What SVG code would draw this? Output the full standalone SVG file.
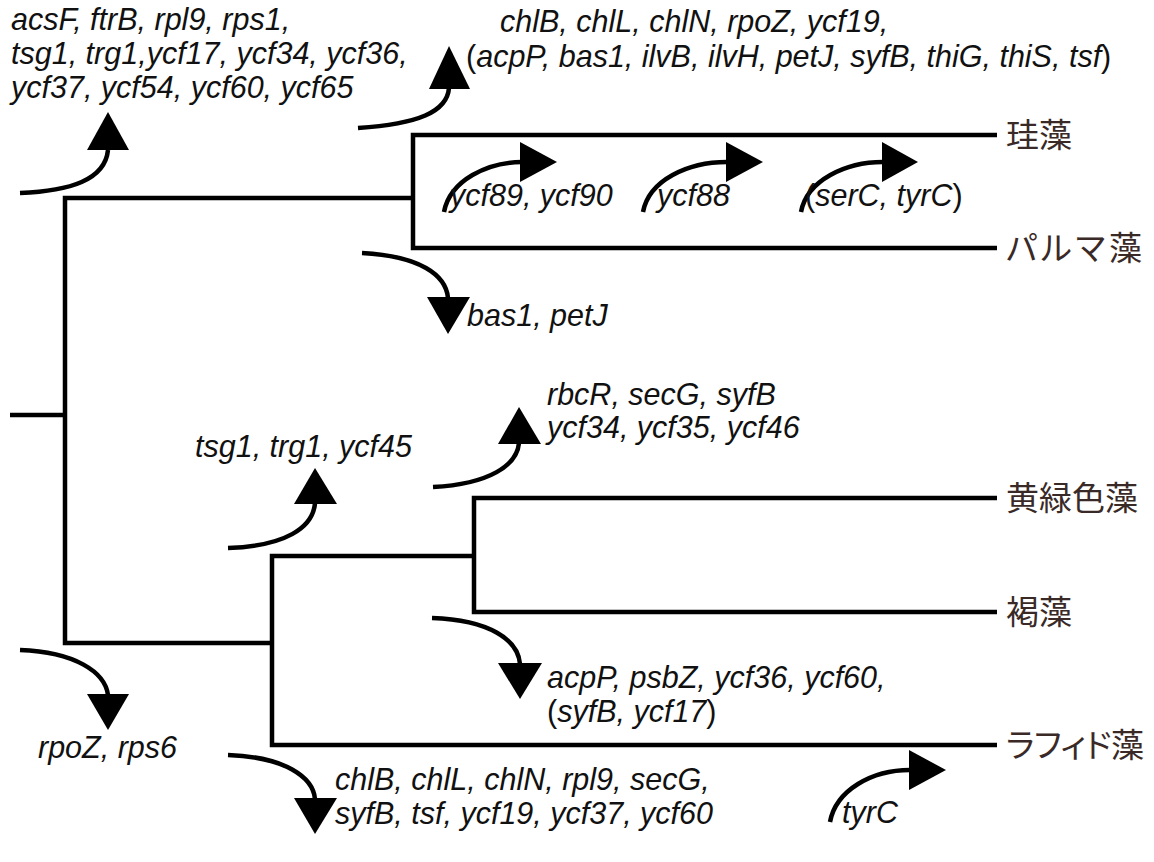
<svg xmlns="http://www.w3.org/2000/svg" width="1154" height="862" viewBox="0 0 1154 862">
  <style>
    .tree { fill: none; stroke: #000; stroke-width: 4.5; stroke-linejoin: miter; stroke-linecap: butt; }
    .curve { fill: none; stroke: #000; stroke-width: 4.5; stroke-linecap: butt; }
    .head { fill: #000; stroke: none; }
    .gene { font-family: "Liberation Sans", Arial, sans-serif; font-style: italic; font-size: 30.5px; fill: #111; }
    .up { font-style: normal; }
    .taxon { font-family: "Noto Sans CJK JP", "Noto Sans CJK SC", sans-serif; font-size: 33px; fill: #3a2a27; font-feature-settings: "palt"; }
  </style>
  <rect width="1154" height="862" fill="#fff"/>

  <!-- tree branches -->
  <g id="connectors">
    <path class="tree" d="M10,415 H65"/>
    <path class="tree" d="M413,198 H65 V643 H272"/>
    <path class="tree" d="M997,135 H413 V248 H997"/>
    <path class="tree" d="M474,556 H272 V745 H997"/>
    <path class="tree" d="M997,498 H474 V612 H997"/>
  </g>

  <!-- taxa -->
  <g id="taxon-diatom"><text class="taxon" x="1006" y="147">珪藻</text></g>
  <g id="taxon-bolido"><text class="taxon" x="1006" y="260" textLength="136" lengthAdjust="spacing">パルマ藻</text></g>
  <g id="taxon-xantho"><text class="taxon" x="1006" y="510">黄緑色藻</text></g>
  <g id="taxon-brown"><text class="taxon" x="1006" y="624">褐藻</text></g>
  <g id="taxon-raphido"><text class="taxon" x="1006" y="757" textLength="138" lengthAdjust="spacing">ラフィド藻</text></g>

  <!-- gene gains / losses -->
  <g id="event-root-gain">
    <path class="curve" d="M20,193 C70,191 105,180 108,150"/>
    <polygon class="head" points="87,150 129,150 108,112"/>
    <text class="gene" x="11" y="30">acsF, ftrB, rpl9, rps1,</text>
    <text class="gene" x="11" y="64">tsg1, trg1,ycf17, ycf34, ycf36,</text>
    <text class="gene" x="11" y="98">ycf37, ycf54, ycf60, ycf65</text>
  </g>

  <g id="event-diatom-bolido-gain">
    <path class="curve" d="M358,128 C418,124 447,112 449,88"/>
    <polygon class="head" points="429,89 470,89 449,46"/>
    <text class="gene" x="500" y="32">chlB, chlL, chlN, rpoZ, ycf19,</text>
    <text class="gene" x="466" y="67"><tspan class="up">(</tspan>acpP, bas1, ilvB, ilvH, petJ, syfB, thiG, thiS, tsf<tspan class="up">)</tspan></text>
  </g>

  <g id="event-diatom-1">
    <path class="curve" d="M444,212 C450,180 488,162 522,162"/>
    <polygon class="head" points="520,142 520,182 557,162"/>
    <text class="gene" x="450" y="206">ycf89, ycf90</text>
  </g>
  <g id="event-diatom-2">
    <path class="curve" d="M643,212 C649,180 688,162 727,162"/>
    <polygon class="head" points="726,142 726,182 763,162"/>
    <text class="gene" x="657" y="206">ycf88</text>
  </g>
  <g id="event-diatom-3">
    <path class="curve" d="M801,212 C807,180 846,162 883,162"/>
    <polygon class="head" points="882,142 882,182 918,162"/>
    <text class="gene" x="805" y="206"><tspan class="up">(</tspan>serC, tyrC<tspan class="up">)</tspan></text>
  </g>

  <g id="event-diatom-bolido-loss">
    <path class="curve" d="M362,253 C420,256 446,275 448,298"/>
    <polygon class="head" points="427,297 470,297 448,334"/>
    <text class="gene" x="467" y="326">bas1, petJ</text>
  </g>

  <g id="event-xantho-brown-gain">
    <path class="curve" d="M433,487 C490,484 517,465 519,443"/>
    <polygon class="head" points="498,444 541,444 519,407"/>
    <text class="gene" x="547" y="405">rbcR, secG, syfB</text>
    <text class="gene" x="547" y="438">ycf34, ycf35, ycf46</text>
  </g>

  <g id="event-pxr-gain">
    <path class="curve" d="M228,548 C285,546 313,528 315,503"/>
    <polygon class="head" points="294,504 337,504 315,468"/>
    <text class="gene" x="195" y="457">tsg1, trg1, ycf45</text>
  </g>

  <g id="event-xantho-brown-loss">
    <path class="curve" d="M432,618 C490,620 518,640 520,664"/>
    <polygon class="head" points="498,663 542,663 520,699"/>
    <text class="gene" x="547" y="688">acpP, psbZ, ycf36, ycf60,</text>
    <text class="gene" x="547" y="722"><tspan class="up">(</tspan>syfB, ycf17<tspan class="up">)</tspan></text>
  </g>

  <g id="event-pxr-loss">
    <path class="curve" d="M20,650 C75,652 105,672 108,695"/>
    <polygon class="head" points="87,694 129,694 108,730"/>
    <text class="gene" x="38" y="758">rpoZ, rps6</text>
  </g>

  <g id="event-raphido-loss">
    <path class="curve" d="M228,755 C285,757 313,777 315,799"/>
    <polygon class="head" points="294,798 337,798 315,834"/>
    <text class="gene" x="335" y="790">chlB, chlL, chlN, rpl9, secG,</text>
    <text class="gene" x="335" y="824">syfB, tsf, ycf19, ycf37, ycf60</text>
  </g>

  <g id="event-raphido-gain">
    <path class="curve" d="M830,822 C836,790 872,770 910,770"/>
    <polygon class="head" points="909,750 909,790 946,770"/>
    <text class="gene" x="842" y="823">tyrC</text>
  </g>
</svg>
